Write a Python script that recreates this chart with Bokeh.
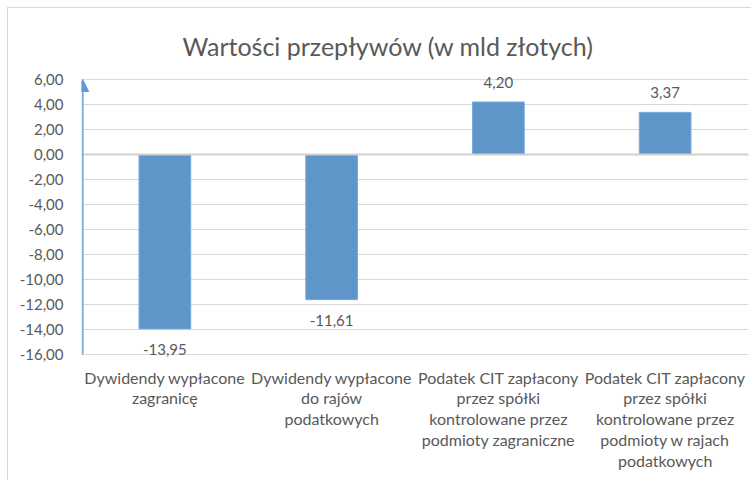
from bokeh.plotting import figure
from bokeh.models import ColumnDataSource, FixedTicker, Range1d, Span, Arrow, NormalHead, Title
from bokeh.core.properties import value
from bokeh.embed import file_html
from bokeh.resources import INLINE

title_text = "Wartości przepływów (w mld złotych)"
categories = [
    "Dywidendy wypłacone\nzagranicę",
    "Dywidendy wypłacone\ndo rajów\npodatkowych",
    "Podatek CIT zapłacony\nprzez spółki\nkontrolowane przez\npodmioty zagraniczne",
    "Podatek CIT zapłacony\nprzez spółki\nkontrolowane przez\npodmioty w rajach\npodatkowych",
]
values = [-13.95, -11.61, 4.20, 3.37]
y_ticks = [-16, -14, -12, -10, -8, -6, -4, -2, 0, 2, 4, 6]

FONT = "Lato"
TXT = "#595959"
BAR = "#5f96c9"

xs = list(range(1, len(categories) + 1))
labels = [f"{v:.2f}".replace(".", ",") for v in values]
src_pos = ColumnDataSource(dict(x=[x for x, v in zip(xs, values) if v >= 0],
                                y=[v for v in values if v >= 0],
                                t=[l for l, v in zip(labels, values) if v >= 0]))
src_neg = ColumnDataSource(dict(x=[x for x, v in zip(xs, values) if v < 0],
                                y=[v for v in values if v < 0],
                                t=[l for l, v in zip(labels, values) if v < 0]))

x0, x1 = 0.5, len(categories) + 0.5
pad = 0.24  # small headroom so data labels are not clipped at the frame edge
p = figure(width=744, height=473, output_backend="svg", toolbar_location=None,
           x_range=Range1d(x0, x1), y_range=Range1d(y_ticks[0] - pad, y_ticks[-1] + pad),
           min_border_left=73, min_border_right=4, min_border_top=68, min_border_bottom=124)
p.styles = {"margin-left": "7px", "margin-top": "7px",
            "border-left": "1px solid #d9d9d9", "border-top": "1px solid #d9d9d9"}

# tiny spacer title next to the frame, real title added outside it
p.title.text = " "
p.title.text_font_size = "1px"
p.title.standoff = 5

p.add_layout(Title(text=title_text, text_font=FONT, text_font_size="25px",
                   text_font_style="normal", text_color=TXT, align="left", offset=101,
                   vertical_align="top", standoff=28), "above")

p.outline_line_color = None
p.xgrid.grid_line_color = None
p.ygrid.grid_line_color = "#d9d9d9"
p.ygrid.ticker = FixedTicker(ticks=y_ticks)

p.yaxis.ticker = FixedTicker(ticks=y_ticks)
p.yaxis.major_label_overrides = {t: f"{t:.2f}".replace(".", ",") for t in y_ticks}
p.yaxis.axis_line_color = None
p.yaxis.major_tick_line_color = None
p.yaxis.minor_tick_line_color = None
p.yaxis.major_label_standoff = 12
p.yaxis.major_label_text_font = FONT
p.yaxis.major_label_text_font_size = "15px"
p.yaxis.major_label_text_color = TXT

p.xaxis.ticker = FixedTicker(ticks=xs)
p.xaxis.major_label_overrides = {x: c for x, c in zip(xs, categories)}
p.xaxis.axis_line_color = None
p.xaxis.major_tick_line_color = None
p.xaxis.minor_tick_line_color = None
p.xaxis.major_label_standoff = 4
p.xaxis.major_label_text_font = FONT
p.xaxis.major_label_text_font_size = "16px"
p.xaxis.major_label_text_color = TXT
p.xaxis.major_label_text_line_height = 1.1

p.vbar(x=xs, top=values, bottom=0, width=0.31, fill_color=BAR, line_color="#79a9d8", line_width=1)

p.add_layout(Span(location=0, dimension="width", line_color="#d0d0d0", line_width=2))

p.add_layout(Arrow(end=NormalHead(size=12, fill_color="#5b9bd5", line_color="#5b9bd5"),
                   x_start=x0 + 0.007, y_start=y_ticks[0], x_end=x0 + 0.007, y_end=y_ticks[-1],
                   line_color="#7fabd8", line_width=2))

p.text(x="x", y="y", text="t", source=src_pos, text_align="center", text_baseline="bottom",
       y_offset=-14, text_font=value(FONT), text_font_size="15px", text_color=TXT)
p.text(x="x", y="y", text="t", source=src_neg, text_align="center", text_baseline="top",
       y_offset=15, text_font=value(FONT), text_font_size="15px", text_color=TXT)

open("out.html", "w").write(file_html(p, INLINE))
